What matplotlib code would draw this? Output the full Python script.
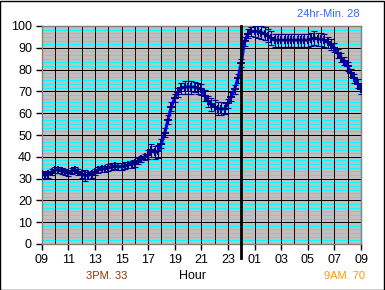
import numpy as np
import matplotlib
matplotlib.use('Agg')
import matplotlib.pyplot as plt

# readings every 15 minutes, from 09:00 to 09:00 next day
temps = [32, 31.5, 32, 33, 34, 34, 33.5, 33, 32.5, 33.5, 34, 33,
         32, 31.5, 31.5, 32, 33, 34, 34.5, 34.5, 35, 35.5, 35.8, 35.5,
         35.5, 36, 36.3, 36.5, 37, 38, 39, 40, 41, 43, 42, 42.5,
         46, 51, 57, 63, 67, 69.5, 71.5, 72, 72, 72, 72, 71.5,
         71, 68, 65.5, 64, 63, 62, 62, 62, 64.5, 67.5, 71, 76,
         83, 93, 96.5, 97.5, 97.5, 97.5, 97, 96.5, 95.5, 94.5, 93.5, 93.5,
         93.5, 93.5, 93.5, 93.5, 93.5, 93.5, 93.5, 93.5, 93.5, 94, 94.5, 94,
         94, 93.5, 92.5, 91.5, 90, 87.5, 85.5, 84, 81.5, 78.5, 76, 73.5,
         71]
spread = [1.5, 1.5, 1.5, 1.5, 1.5, 1.5, 1.5, 1.5, 1.5, 1.5, 1.5, 1.5,
          1.5, 2.5, 1.5, 1.5, 1.5, 1.5, 1.5, 1.5, 1.5, 1.5, 1.5, 1.5,
          1.5, 1.5, 1.5, 1.5, 1.5, 1.5, 1.5, 1.5, 2, 3, 3, 3,
          2, 2, 2, 2, 2, 2, 2.5, 3, 3, 3, 2.5, 2.5,
          2.5, 2.5, 2.5, 3, 3, 3, 3, 2.5, 2, 2, 2, 2,
          2, 2, 2, 2, 2.5, 3, 3, 3, 3, 3, 3, 3,
          3, 3, 3, 3, 3, 3, 3, 3, 3, 3, 3, 3,
          3, 3, 2.5, 2.5, 2, 2, 2, 2, 2, 2, 2, 2,
          2]
hours = np.arange(len(temps)) * 0.25

xticks = np.arange(0, 25, 2)
xlabels = ['%02d' % ((9 + h) % 24) for h in xticks]

fig = plt.figure(figsize=(3.85, 2.9), dpi=100)
plt.rcParams['font.family'] = ['Liberation Sans', 'DejaVu Sans']
ax = fig.add_axes([41.7 / 385, 1 - 244 / 290, (361 - 41.7) / 385, 218 / 290])
ax.set_facecolor('#C0C0C0')

# grid: cyan minor, black major
for v in np.arange(10 / 6, 100, 10 / 6):
    if abs(v / 10 - round(v / 10)) > 0.01:
        ax.axhline(v, color='#00FFFF', lw=0.6, antialiased=False, zorder=1)
for v in range(10, 100, 10):
    ax.axhline(v, color='black', lw=0.6, antialiased=False, zorder=2)
for h in range(1, 24):
    ax.axvline(h, color='black', lw=0.6, antialiased=False, zorder=2)

ax.errorbar(hours, temps, yerr=spread, fmt='none', ecolor='#000080',
            elinewidth=0.8, capsize=2, capthick=0.8, zorder=3)
ax.plot(hours, temps, color='#0000FF', lw=2.2, zorder=4)
ax.plot(hours, temps, '+', color='#000080', ms=5.5, mew=1.4, zorder=5)

# midnight marker
ax.plot([15, 15], [-0.064, 1.0], color='black', lw=2, transform=ax.get_xaxis_transform(),
        clip_on=False, zorder=6)

ax.set_xlim(0, 24)
ax.set_ylim(0, 100)
ax.set_xticks(xticks)
ax.set_xticklabels(xlabels)
ax.set_yticks(range(0, 101, 10))
ax.tick_params(labelsize=9, length=4, width=1, pad=3, colors='black')
for s in ax.spines.values():
    s.set_color('#808080')
    s.set_linewidth(1)

fig.text(107 / 385, 1 - 276 / 290, '3PM. 33', color='#993300', fontsize=8, ha='center', va='center')
fig.text(193 / 385, 1 - 276 / 290, 'Hour', color='black', fontsize=9, ha='center', va='center')
fig.text(344 / 385, 1 - 276 / 290, '9AM. 70', color='#FF9900', fontsize=8, ha='center', va='center')
fig.text(328 / 385, 1 - 14 / 290, '24hr-Min. 28', color='#3366FF', fontsize=8, ha='center', va='center')

fig.add_artist(plt.Rectangle((0.001, 0.001), 0.997, 0.996, transform=fig.transFigure,
                             fill=False, edgecolor='black', lw=1))

fig.savefig('out.png', dpi=100)
